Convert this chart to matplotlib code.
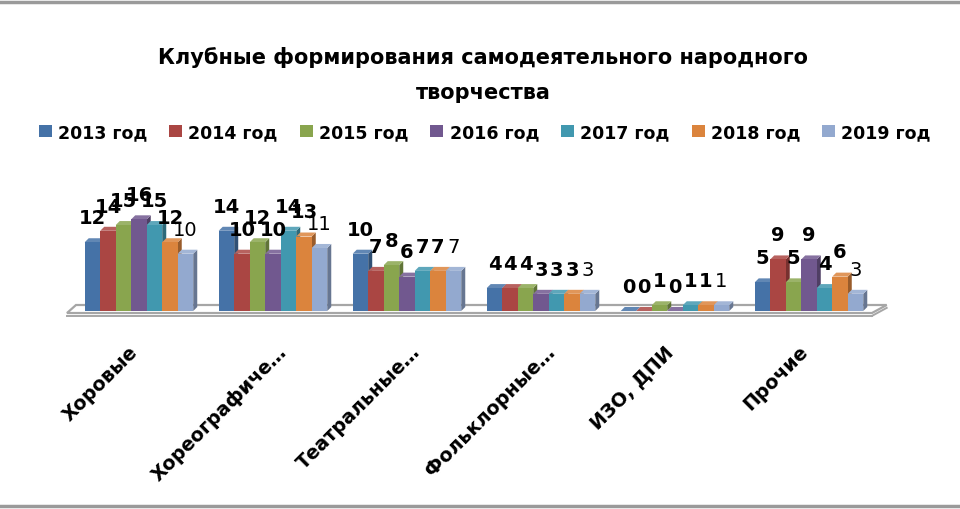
import numpy as np
import matplotlib.pyplot as plt
from matplotlib.patches import Polygon, Rectangle, Patch
from matplotlib.lines import Line2D
from matplotlib.colors import to_rgb

# ----- Datos -----

categorias = ['Хоровые', 'Хореографиче…', 'Театральные…', 'Фольклорные…', 'ИЗО, ДПИ', 'Прочие']
anios = ['2013 год', '2014 год', '2015 год', '2016 год', '2017 год', '2018 год', '2019 год']

v2013 = [12, 14, 10, 4, 0, 5]
v2014 = [14, 10, 7, 4, 0, 9]
v2015 = [15, 12, 8, 4, 1, 5]
v2016 = [16, 10, 6, 3, 0, 9]
v2017 = [15, 14, 7, 3, 1, 4]
v2018 = [12, 13, 7, 3, 1, 6]
v2019 = [10, 11, 7, 3, 1, 3]
series = [v2013, v2014, v2015, v2016, v2017, v2018, v2019]

colores = ['#4572A7', '#AA4643', '#89A54E', '#71588F', '#4198AF', '#DB843D', '#93A9CF']

plt.rcParams['font.family'] = ['DejaVu Sans']


def oscurecer(c, f):
    r, g, b = to_rgb(c)
    return (r * f, g * f, b * f)


def aclarar(c, f):
    r, g, b = to_rgb(c)
    return (r + (1 - r) * f, g + (1 - g) * f, b + (1 - b) * f)


# ----- Figura -----

fig = plt.figure(figsize=(9.6, 5.1), dpi=100)
ax = fig.add_axes([0, 0, 1, 1])
ax.set_xlim(-1.037, 6.127)
ax.set_ylim(-34.55, 54.45)
ax.axis('off')

ancho = 0.1157           # ancho de cada barra (en unidades de grupo)
dx, dy = 0.03, 0.7       # profundidad del efecto 3D
n = len(series)

# piso
piso = Polygon([(-0.537, -0.35), (5.47, -0.35), (5.58, 1.05), (-0.47, 1.05)],
               closed=True, facecolor='white', edgecolor='#A6A6A6', lw=1.6, zorder=1)
ax.add_patch(piso)
ax.plot([-0.537, 5.47], [-0.85, -0.85], color='#A6A6A6', lw=1.4, zorder=1)
ax.plot([5.47, 5.58], [-0.85, 0.55], color='#A6A6A6', lw=1.4, zorder=1)

z = 2
for i in range(len(categorias)):
    x0 = i - ancho * n / 2
    for j, s in enumerate(series):
        v = s[i]
        x = x0 + j * ancho
        c = colores[j]
        ax.add_patch(Polygon([(x + ancho, 0), (x + ancho + dx, dy), (x + ancho + dx, v + dy), (x + ancho, v)],
                             closed=True, facecolor=oscurecer(c, 0.7), edgecolor='none', zorder=z))
        ax.add_patch(Polygon([(x, v), (x + dx, v + dy), (x + ancho + dx, v + dy), (x + ancho, v)],
                             closed=True, facecolor=aclarar(c, 0.15), edgecolor='none', zorder=z))
        ax.add_patch(Rectangle((x, 0), ancho, v, facecolor=c, edgecolor='none', zorder=z))
        z += 1
    for j, s in enumerate(series):
        v = s[i]
        x = x0 + j * ancho
        ax.text(x + ancho / 2, v + 4.3, str(v), ha='center', va='center', fontsize=14,
                fontweight='normal' if j == n - 1 else 'bold', color='black', zorder=100)
    # las etiquetas truncadas sobresalen un poco a la derecha
    desp = 0.08 if categorias[i].endswith('…') else -0.03
    ax.text(i + desp, -6.5, categorias[i], rotation=45, rotation_mode='anchor',
            ha='right', va='center', fontsize=13.8, fontweight='bold', color='black')

# titulo
fig.text(0.503, 1 - 58 / 510, 'Клубные формирования самодеятельного народного',
         ha='center', va='center', fontsize=15, fontweight='bold', color='black')
fig.text(0.503, 1 - 93 / 510, 'творчества', ha='center', va='center', fontsize=15,
         fontweight='bold', color='black')

# leyenda
handles = [Patch(facecolor=c, edgecolor='none') for c in colores]
fig.legend(handles, anios, loc='center', bbox_to_anchor=(0.505, 1 - 133 / 510), ncol=7,
           frameon=False, prop={'size': 12.5, 'weight': 'bold'}, handlelength=0.75,
           handleheight=0.75, handletextpad=0.35, columnspacing=1.27)

# bordes
fig.add_artist(Line2D([0, 1], [1 - 3 / 510, 1 - 3 / 510], color='#9A9A9A', lw=2.5))
fig.add_artist(Line2D([0, 1], [3 / 510, 3 / 510], color='#9A9A9A', lw=2.5))

plt.savefig('out.png', dpi=100)
